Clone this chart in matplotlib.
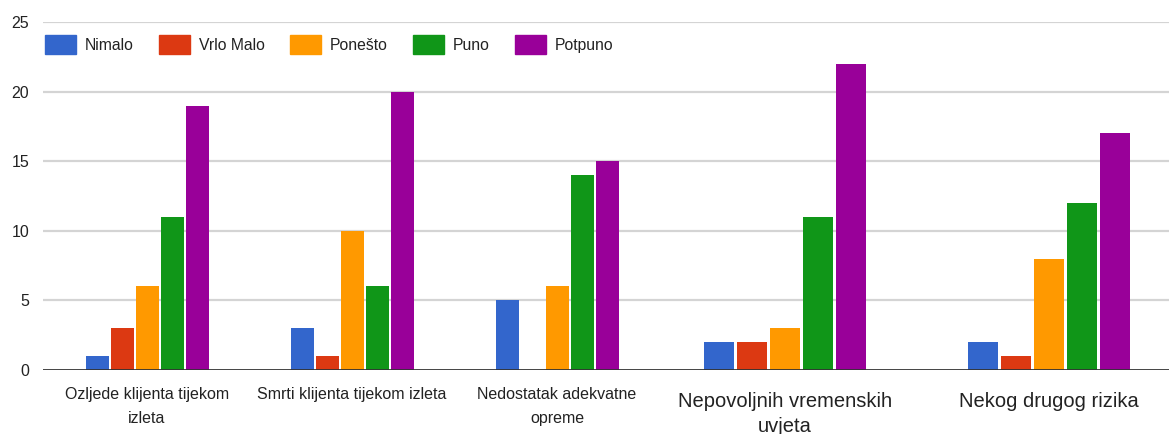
import matplotlib
matplotlib.use("Agg")
import matplotlib.pyplot as plt
from matplotlib.patches import Patch

categories = ["Ozljede klijenta tijekom\nizleta", "Smrti klijenta tijekom izleta",
              "Nedostatak adekvatne\nopreme", "Nepovoljnih vremenskih\nuvjeta",
              "Nekog drugog rizika"]
series_names = ["Nimalo", "Vrlo Malo", "Ponešto", "Puno", "Potpuno"]
nimalo = [1, 3, 5, 2, 2]
vrlo_malo = [3, 1, 0, 2, 1]
ponesto = [6, 10, 6, 3, 8]
puno = [11, 6, 14, 11, 12]
potpuno = [19, 20, 15, 22, 17]
yticks = [0, 5, 10, 15, 20, 25]

series = [nimalo, vrlo_malo, ponesto, puno, potpuno]
colors = ["#3366cc", "#dc3912", "#ff9900", "#109618", "#990099"]

# layout (pixel-like x units)
centers = [147, 352, 557, 785, 1049]
pitch = [25, 25, 25, 33, 33]
widths = [23, 23, 23, 30, 30]
label_sizes = [11.5, 11.5, 11.5, 14.5, 14.5]
label_offsets = [-12, -12, -12, -16, -16]
label_spacing = [1.8, 1.8, 1.8, 1.4, 1.4]

plt.rcParams['font.family'] = ['Liberation Sans', 'DejaVu Sans']

fig = plt.figure(figsize=(11.69, 4.34), dpi=100)
ax = fig.add_axes([43/1169, 64/434, 1 - 43/1169, (370-22)/434])
ax.set_xlim(43, 1169)
ax.set_ylim(0, 25)

for s_idx, (vals, col) in enumerate(zip(series, colors)):
    for g in range(len(categories)):
        x = centers[g] + (s_idx - 2) * pitch[g]
        ax.bar(x, vals[g], width=widths[g], color=col, zorder=3)

for y in yticks[1:]:
    ax.axhline(y, color="#d4d4d4", lw=1.6, zorder=1)
ax.axhline(0, color="#333333", lw=2, zorder=4)

for sp in ax.spines.values():
    sp.set_visible(False)
ax.set_xticks([])
ax.set_yticks(yticks)
ax.set_yticklabels([str(v) for v in yticks], fontsize=11.5, color="#222222")
ax.tick_params(axis='y', length=0, pad=10)

for g, lab in enumerate(categories):
    ax.annotate(lab, xy=(centers[g], 0), xycoords=('data', 'axes fraction'),
                xytext=(0, label_offsets[g]), textcoords='offset points',
                ha='center', va='top', fontsize=label_sizes[g], color="#222222",
                linespacing=label_spacing[g], annotation_clip=False)

handles = [Patch(facecolor=c, edgecolor=c) for c in colors]
fig.legend(handles, series_names, loc='upper left',
           bbox_to_anchor=(45/1169, 1 - 35/434), ncol=5, frameon=False,
           fontsize=11.3, handlelength=2.0, handleheight=1.45, handletextpad=0.55,
           columnspacing=1.6, borderpad=0, borderaxespad=0, labelcolor="#222222")

fig.savefig("out.png", dpi=100)
